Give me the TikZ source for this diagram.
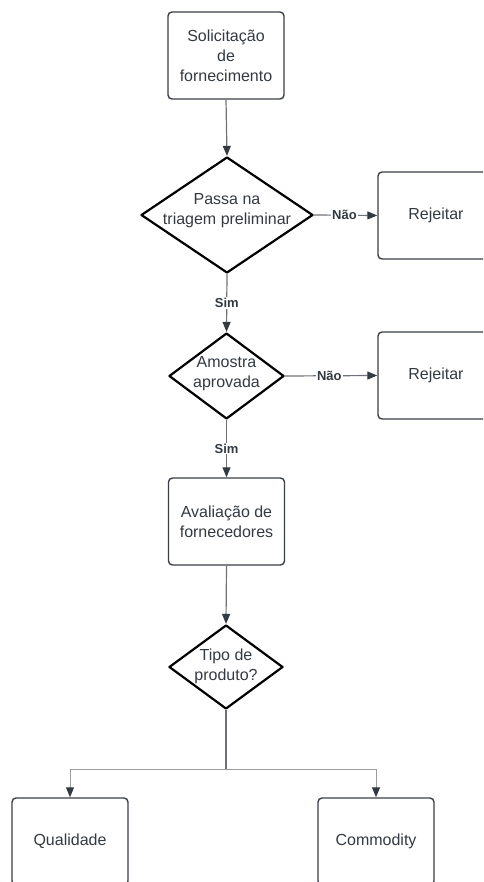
\documentclass[tikz,border=0pt]{standalone}
\usepackage{fontspec}
\setmainfont{Liberation Sans}
\usetikzlibrary{shapes.geometric,arrows.meta}
\definecolor{ink}{HTML}{343A42}
\definecolor{edge}{HTML}{3A3F47}
\definecolor{wire}{HTML}{6E7278}
\definecolor{branch}{HTML}{9A9DA1}
\tikzset{
  stepbox/.style={draw=edge,line width=1.4pt,rounded corners=4pt,fill=white,
    minimum width=116pt,minimum height=87pt,inner sep=0pt,align=center,
    text=ink,font=\fontsize{16}{20}\selectfont},
  choice/.style={draw=black,line width=2.2pt,line join=round,diamond,
    inner sep=0pt,fill=white},
  choicetext/.style={align=center,text=ink,font=\fontsize{16}{20}\selectfont},
  flow/.style={draw=wire,line width=1.2pt,
    -{Triangle[length=10pt,width=8pt,fill=ink,color=ink]}},
  plain/.style={draw=wire,line width=1.2pt},
  tag/.style={fill=white,inner sep=1pt,text=ink,
    font=\bfseries\fontsize{13}{15}\selectfont}
}
\begin{document}
\begin{tikzpicture}[x=1pt,y=-1pt]
\useasboundingbox (0,0) rectangle (483,882);
\clip (0,0) rectangle (483,882);

% process boxes
\node[stepbox] (req) at (226,55.5) {Solicitação\\de\\fornecimento};
\node[stepbox] (rej1) at (436,215.5) {Rejeitar};
\node[stepbox] (rej2) at (436,375.5) {Rejeitar};
\node[stepbox] (aval) at (226.5,521.5) {Avaliação de\\fornecedores};
\node[stepbox] (qual) at (70,841.5) {Qualidade};
\node[stepbox] (comm) at (376,841.5) {Commodity};

% decisions
\node[choice,minimum width=172pt,minimum height=116pt] (d1) at (227,215) {};
\node[choicetext] at (227,211) {Passa na\\triagem preliminar};
\node[choice,minimum width=115pt,minimum height=86pt] (d2) at (226.5,376) {};
\node[choicetext] at (226.5,374) {Amostra\\aprovada};
\node[choice,minimum width=114pt,minimum height=84pt] (d3) at (226,667) {};
\node[choicetext] at (226,666) {Tipo de\\produto?};

% connectors
\draw[flow] (req.south) -- (d1.north);
\draw[flow] (d1.east) -- node[tag,pos=0.48] {Não} (rej1.west);
\draw[flow] (d1.south) -- node[tag,pos=0.5] {Sim} (d2.north);
\draw[flow] (d2.east) -- node[tag,pos=0.48] {Não} (rej2.west);
\draw[flow] (d2.south) -- node[tag,pos=0.5] {Sim} (aval.north);
\draw[flow] (aval.south) -- (d3.north);

% split towards the two product types
\coordinate (split) at (226,769);
\draw[plain] (d3.south) -- (split);
\draw[flow,draw=branch,line width=1pt] (split) -| (qual.north);
\draw[flow,draw=branch,line width=1pt] (split) -| (comm.north);
\end{tikzpicture}
\end{document}
